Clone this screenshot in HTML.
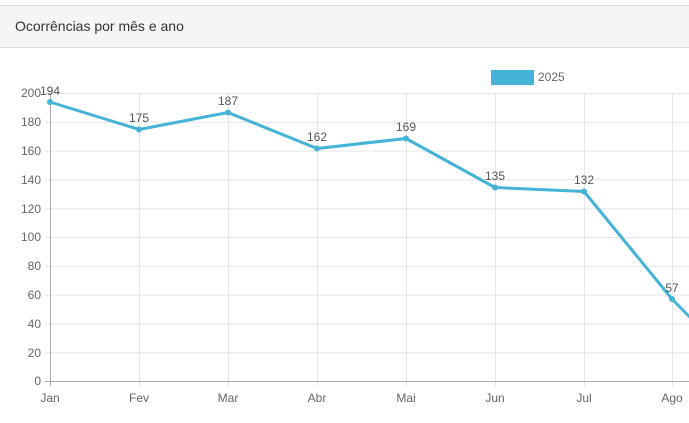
<!DOCTYPE html><html><head><style>
body{margin:0;width:689px;height:423px;background:#fff;overflow:hidden;font-family:"Liberation Sans",sans-serif}
.hd{position:absolute;left:0;top:5px;width:689px;height:41px;background:#f5f5f5;border-top:1px solid #ddd;border-bottom:1px solid #ddd}
.hd span{position:absolute;left:15px;top:12px;font-size:14px;color:#333}
</style></head><body>
<div class="hd"><span>Ocorrências por mês e ano</span></div>
<svg width="689" height="423" style="position:absolute;left:0;top:0">
<g stroke="#e5e5e5" stroke-width="1">
<line x1="45" y1="93.5" x2="689" y2="93.5"/><line x1="45" y1="122.3" x2="689" y2="122.3"/><line x1="45" y1="151.1" x2="689" y2="151.1"/><line x1="45" y1="179.9" x2="689" y2="179.9"/><line x1="45" y1="208.7" x2="689" y2="208.7"/><line x1="45" y1="237.5" x2="689" y2="237.5"/><line x1="45" y1="266.3" x2="689" y2="266.3"/><line x1="45" y1="295.1" x2="689" y2="295.1"/><line x1="45" y1="323.9" x2="689" y2="323.9"/><line x1="45" y1="352.7" x2="689" y2="352.7"/>
<line x1="139.5" y1="93" x2="139.5" y2="386"/><line x1="228.5" y1="93" x2="228.5" y2="386"/><line x1="317.5" y1="93" x2="317.5" y2="386"/><line x1="406.5" y1="93" x2="406.5" y2="386"/><line x1="495.5" y1="93" x2="495.5" y2="386"/><line x1="584.5" y1="93" x2="584.5" y2="386"/><line x1="672.5" y1="93" x2="672.5" y2="386"/>
</g>
<g stroke="#aaa"><line x1="50.5" y1="93" x2="50.5" y2="386"/><line x1="45" y1="381.5" x2="689" y2="381.5"/></g>
<g font-size="12" fill="#666" text-anchor="end">
<text x="41" y="97">200</text><text x="41" y="126">180</text><text x="41" y="155">160</text><text x="41" y="184">140</text><text x="41" y="213">120</text><text x="41" y="241">100</text><text x="41" y="270">80</text><text x="41" y="299">60</text><text x="41" y="328">40</text><text x="41" y="357">20</text><text x="41" y="385">0</text>
</g>
<g font-size="12" fill="#666" text-anchor="middle">
<text x="50" y="402">Jan</text><text x="139" y="402">Fev</text><text x="228" y="402">Mar</text><text x="317" y="402">Abr</text><text x="406" y="402">Mai</text><text x="495" y="402">Jun</text><text x="584" y="402">Jul</text><text x="672" y="402">Ago</text>
</g>
<rect x="491" y="70" width="43" height="15" fill="#45b3d6"/>
<text x="538" y="81" font-size="12" fill="#666">2025</text>
<polyline fill="none" stroke="#45b3d6" stroke-width="3" stroke-linejoin="round" points="50,102 139,129.5 228,112.5 317,148.5 406,138.5 495,187.5 584,191.5 672,299 761,390"/>
<g fill="#45b3d6"><circle cx="50" cy="102" r="3"/><circle cx="139" cy="129.5" r="3"/><circle cx="228" cy="112.5" r="3"/><circle cx="317" cy="148.5" r="3"/><circle cx="406" cy="138.5" r="3"/><circle cx="495" cy="187.5" r="3"/><circle cx="584" cy="191.5" r="3"/><circle cx="672" cy="299" r="3"/></g>
<g font-size="12" fill="#555" text-anchor="middle">
<text x="50" y="95">194</text><text x="139" y="122">175</text><text x="228" y="105">187</text><text x="317" y="141">162</text><text x="406" y="131">169</text><text x="495" y="180">135</text><text x="584" y="184">132</text><text x="672" y="292">57</text>
</g>
</svg>
</body></html>
